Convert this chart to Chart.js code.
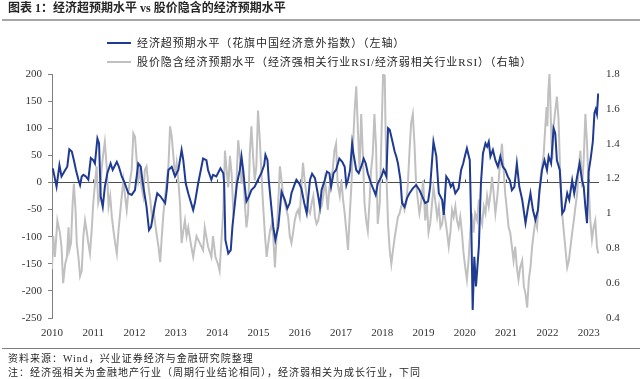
<!DOCTYPE html>
<html>
<head>
<meta charset="utf-8">
<script src="https://cdn.jsdelivr.net/npm/chart.js@4.4.0/dist/chart.umd.min.js"></script>
<style>
  body { margin: 0; background: #fff; }
  #wrap { position: relative; width: 640px; height: 379px; overflow: hidden; }
  #chart { position: absolute; left: 0; top: 0; }
  .cjk { font-family: "Liberation Serif", "Noto Sans CJK SC", serif; color: #262626; white-space: nowrap; position: absolute; }
  .title { left: 8px; top: 0px; font-size: 12px; font-weight: bold; line-height: 16px; }
  .rule { position: absolute; left: 2px; width: 638px; }
  .legend { left: 107px; font-size: 11px; letter-spacing: 0.9px; line-height: 14px; }
  .legend i { display: inline-block; width: 24px; height: 2px; vertical-align: middle; margin-right: 6px; position: relative; top: -1px; }
  .note { left: 8px; font-size: 10px; letter-spacing: 1px; line-height: 13px; }
</style>
</head>
<body>
<div id="wrap">
  <canvas id="chart" width="640" height="379"></canvas>
  <div class="cjk title">图表 1：经济超预期水平 vs 股价隐含的经济预期水平</div>
  <div class="rule" style="top:19px;height:2px;background:#a6a6a6"></div>
  <div class="cjk legend" style="top:36px"><i style="background:#1f3a93"></i>经济超预期水平（花旗中国经济意外指数）（左轴）</div>
  <div class="cjk legend" style="top:55px"><i style="background:#c0c0c0"></i>股价隐含经济预期水平（经济强相关行业RSI/经济弱相关行业RSI）（右轴）</div>
  <div class="rule" style="top:348px;height:1px;background:#7f7f7f"></div>
  <div class="cjk note" style="top:352px">资料来源：Wind，兴业证券经济与金融研究院整理</div>
  <div class="cjk note" style="top:366px">注：经济强相关为金融地产行业（周期行业结论相同），经济弱相关为成长行业，下同</div>
</div>
<script>
// x axis labels and y axis ticks
const yearLabels = [2010, 2011, 2012, 2013, 2014, 2015, 2016, 2017, 2018, 2019, 2020, 2021, 2022, 2023];
const leftTicks = [200, 150, 100, 50, 0, -50, -100, -150, -200, -250];
const rightTicks = [1.8, 1.6, 1.4, 1.2, 1, 0.8, 0.6, 0.4];

// Citi China economic surprise index (left axis)
const blueYears = [
  2010.02, 2010.11, 2010.18, 2010.23, 2010.32, 2010.37, 2010.42, 2010.48, 2010.53, 2010.58, 2010.64, 2010.68, 2010.72, 2010.76, 2010.82, 2010.88, 2010.94,
  2011.00, 2011.04, 2011.10, 2011.14, 2011.18, 2011.23, 2011.28, 2011.34, 2011.42, 2011.47, 2011.57, 2011.62, 2011.69, 2011.75, 2011.85, 2011.93,
  2012.01, 2012.09, 2012.15, 2012.20, 2012.29, 2012.35, 2012.40, 2012.50, 2012.55, 2012.63, 2012.74, 2012.78, 2012.82, 2012.90, 2012.98,
  2013.06, 2013.14, 2013.18, 2013.24, 2013.30, 2013.42, 2013.46, 2013.54, 2013.66, 2013.74, 2013.78, 2013.86, 2013.90, 2013.98,
  2014.08, 2014.15, 2014.17, 2014.20, 2014.27, 2014.33, 2014.37, 2014.43, 2014.48, 2014.55, 2014.59, 2014.63, 2014.67, 2014.71, 2014.77, 2014.83, 2014.91, 2014.99,
  2015.07, 2015.14, 2015.17, 2015.22, 2015.25, 2015.32, 2015.36, 2015.41, 2015.48, 2015.52, 2015.56, 2015.64, 2015.70, 2015.76, 2015.80, 2015.87, 2015.92, 2015.99,
  2016.04, 2016.11, 2016.17, 2016.25, 2016.30, 2016.37, 2016.45, 2016.49, 2016.53, 2016.61, 2016.66, 2016.72, 2016.76, 2016.82, 2016.88, 2016.96,
  2017.03, 2017.09, 2017.13, 2017.17, 2017.22, 2017.27, 2017.30, 2017.37, 2017.43, 2017.49, 2017.55, 2017.60, 2017.65, 2017.73, 2017.84, 2017.89, 2017.98,
  2018.03, 2018.10, 2018.14, 2018.18, 2018.24, 2018.30, 2018.34, 2018.38, 2018.44, 2018.48, 2018.54, 2018.60, 2018.66, 2018.74, 2018.82, 2018.90,
  2019.04, 2019.11, 2019.16, 2019.24, 2019.31, 2019.37, 2019.45, 2019.49, 2019.55, 2019.61, 2019.66, 2019.71, 2019.77, 2019.85, 2019.91, 2019.96,
  2020.00, 2020.05, 2020.12, 2020.16, 2020.19, 2020.23, 2020.27, 2020.34, 2020.39, 2020.44, 2020.50, 2020.54, 2020.58, 2020.62, 2020.68, 2020.74, 2020.80, 2020.86, 2020.92, 2020.98,
  2021.04, 2021.09, 2021.14, 2021.20, 2021.26, 2021.32, 2021.39, 2021.47, 2021.52, 2021.59, 2021.65, 2021.71, 2021.77, 2021.81, 2021.87, 2021.93, 2021.99,
  2022.03, 2022.09, 2022.15, 2022.19, 2022.23, 2022.30, 2022.36, 2022.41, 2022.48, 2022.53, 2022.60, 2022.65, 2022.72, 2022.78, 2022.84, 2022.88, 2022.92, 2022.96,
  2023.00, 2023.05, 2023.10, 2023.14, 2023.17, 2023.20, 2023.23
];
const blueValues = [
  26, -8, 32, 11, 23, 29, 61, 57, 41, 23, 5, -5, 11, 14, 11, 5, 45,
  41, 35, 81, 72, -26, -45, -8, 17, 35, 23, 38, 29, 11, 1, -20, -23,
  -14, 35, 29, -2, -45, -88, -82, -38, -20, -26, -38, -14, 23, 29, 11,
  23, 60, 41, -2, -20, -51, -38, -2, 44, 41, 23, 5, 14, 11,
  26, 17, -2, -106, -131, -125, -82, -38, -2, 23, 48, 23, -8, -35, -26, -14, -8, 5,
  17, 32, 51, 41, 5, -51, -82, -106, -82, -51, -17, -32, -48, -38, -20, -5, 5, -2,
  -11, -38, -57, 5, 16, 8, -26, -45, -14, 5, 20, 17, -8, 17, 23, 44,
  38, 29, -5, 5, 23, 72, 54, 23, 17, 29, 44, 35, 17, -2, -23, -2, 11,
  23, 11, 100, 97, 78, 57, 48, 35, 5, -38, -45, -29, -20, -11, -5, -14,
  -38, -35, -8, 75, 48, -20, -32, -60, 11, 4, -8, -2, -20, -11, 23, 35,
  48, 63, 41, -94, -235, -137, -192, -118, -2, 54, 72, 66, 75, 48, 60, 41, 29, 48, 29, 23,
  11, 4, -14, -8, 35, -8, -32, -75, -51, -20, -51, -69, -51, -14, 23, 41, 23,
  48, 35, 100, 91, 41, 23, -57, -51, -20, -32, 4, -20, 11, 35, 4, -8, -45, -75,
  20, 45, 75, 128, 135, 126, 164
];

// equity-implied growth expectation, RSI ratio (right axis)
const grayYears = [
  2010.00, 2010.03, 2010.07, 2010.13, 2010.19, 2010.23, 2010.27, 2010.32, 2010.36, 2010.40, 2010.42, 2010.46, 2010.50, 2010.53, 2010.57, 2010.60, 2010.64, 2010.68, 2010.72, 2010.76, 2010.80, 2010.84, 2010.88, 2010.92, 2010.96,
  2011.00, 2011.04, 2011.08, 2011.12, 2011.16, 2011.20, 2011.24, 2011.28, 2011.33, 2011.37, 2011.41, 2011.45, 2011.49, 2011.53, 2011.57, 2011.61, 2011.65, 2011.69, 2011.73, 2011.77, 2011.81, 2011.85, 2011.89, 2011.93, 2011.97,
  2012.01, 2012.05, 2012.09, 2012.13, 2012.17, 2012.21, 2012.25, 2012.29, 2012.34, 2012.38, 2012.42, 2012.46, 2012.50, 2012.54, 2012.58, 2012.62, 2012.66, 2012.70, 2012.74, 2012.78, 2012.82, 2012.86, 2012.90, 2012.94, 2012.98,
  2013.02, 2013.06, 2013.10, 2013.14, 2013.18, 2013.22, 2013.26, 2013.30, 2013.36, 2013.42, 2013.50, 2013.58, 2013.66, 2013.70, 2013.78, 2013.86, 2013.90, 2013.96,
  2014.02, 2014.06, 2014.10, 2014.15, 2014.19, 2014.23, 2014.27, 2014.31, 2014.35, 2014.39, 2014.43, 2014.47, 2014.51, 2014.55, 2014.59, 2014.63, 2014.67, 2014.71, 2014.75, 2014.79, 2014.83, 2014.87, 2014.91, 2014.95, 2014.99,
  2015.03, 2015.07, 2015.11, 2015.16, 2015.20, 2015.24, 2015.28, 2015.32, 2015.36, 2015.40, 2015.44, 2015.48, 2015.52, 2015.56, 2015.60, 2015.64, 2015.68, 2015.72, 2015.76, 2015.80, 2015.84, 2015.88, 2015.92, 2015.96,
  2016.00, 2016.04, 2016.08, 2016.12, 2016.17, 2016.21, 2016.25, 2016.29, 2016.33, 2016.37, 2016.41, 2016.45, 2016.49, 2016.53, 2016.57, 2016.61, 2016.64, 2016.68, 2016.72, 2016.76, 2016.80, 2016.84, 2016.88, 2016.92, 2016.97,
  2017.01, 2017.05, 2017.09, 2017.13, 2017.17, 2017.21, 2017.25, 2017.29, 2017.33, 2017.37, 2017.41, 2017.45, 2017.49, 2017.53, 2017.57, 2017.61, 2017.65, 2017.69, 2017.73, 2017.77, 2017.81, 2017.85, 2017.89, 2017.94, 2017.98,
  2018.02, 2018.06, 2018.08, 2018.11, 2018.14, 2018.18, 2018.22, 2018.26, 2018.30, 2018.34, 2018.38, 2018.42, 2018.46, 2018.50, 2018.54, 2018.58, 2018.62, 2018.66, 2018.70, 2018.74, 2018.78, 2018.82, 2018.86, 2018.90, 2018.94, 2018.99,
  2019.04, 2019.08, 2019.12, 2019.16, 2019.20, 2019.24, 2019.28, 2019.33, 2019.37, 2019.41, 2019.45, 2019.49, 2019.53, 2019.57, 2019.61, 2019.65, 2019.69, 2019.73, 2019.77, 2019.81, 2019.85, 2019.89, 2019.93, 2019.97,
  2020.01, 2020.05, 2020.09, 2020.13, 2020.17, 2020.21, 2020.25, 2020.30, 2020.34, 2020.38, 2020.42, 2020.46, 2020.50, 2020.54, 2020.58, 2020.62, 2020.66, 2020.70, 2020.74, 2020.78, 2020.82, 2020.86, 2020.90, 2020.94, 2020.98,
  2021.02, 2021.06, 2021.10, 2021.14, 2021.18, 2021.22, 2021.26, 2021.30, 2021.34, 2021.39, 2021.43, 2021.47, 2021.51, 2021.55, 2021.59, 2021.63, 2021.67, 2021.71, 2021.75, 2021.79, 2021.83, 2021.87, 2021.91, 2021.95, 2021.98,
  2022.00, 2022.02, 2022.05, 2022.07, 2022.10, 2022.12, 2022.15, 2022.19, 2022.23, 2022.27, 2022.31, 2022.35, 2022.40, 2022.44, 2022.48, 2022.52, 2022.56, 2022.60, 2022.64, 2022.68, 2022.72, 2022.76, 2022.80, 2022.84, 2022.88, 2022.92, 2022.96,
  2023.00, 2023.04, 2023.08, 2023.12, 2023.16, 2023.20, 2023.23
];
const grayValues = [
  0.68, 0.87, 0.75, 0.96, 0.89, 0.81, 0.60, 0.71, 0.75, 0.92, 0.79, 0.83, 1.06, 1.17, 1.02, 0.83, 0.75, 0.64, 0.67, 0.87, 0.96, 0.90, 0.83, 0.77, 0.90,
  1.06, 1.17, 1.27, 1.06, 1.10, 1.25, 1.34, 1.41, 1.25, 1.04, 1.10, 0.98, 0.90, 0.83, 0.77, 0.90, 1.00, 1.10, 1.19, 1.10, 1.02, 1.12, 1.19, 1.25, 1.46,
  1.44, 1.31, 1.19, 1.25, 1.15, 1.10, 1.25, 1.27, 1.15, 1.08, 0.98, 1.02, 0.94, 0.87, 0.81, 0.72, 0.87, 1.00, 1.10, 1.19, 1.27, 1.50, 1.44, 1.33, 1.21,
  1.29, 1.19, 1.06, 0.83, 0.90, 0.96, 0.87, 0.92, 0.83, 0.75, 0.87, 0.83, 0.79, 0.92, 0.81, 0.75, 0.87, 0.75,
  0.71, 0.67, 0.83, 1.02, 1.36, 1.25, 1.15, 1.33, 1.23, 1.02, 1.06, 1.19, 1.42, 1.33, 1.17, 1.25, 1.06, 0.92, 1.00, 1.34, 1.50, 1.33, 1.19, 1.27, 1.59,
  1.44, 1.25, 1.06, 0.87, 0.75, 0.83, 0.90, 0.94, 0.87, 0.69, 0.87, 1.06, 1.27, 1.19, 1.10, 1.06, 1.02, 0.98, 0.87, 0.83, 0.89, 0.96, 1.00, 1.02,
  0.98, 1.15, 1.29, 1.19, 1.10, 1.02, 1.00, 1.06, 1.10, 0.98, 0.94, 0.96, 1.02, 1.04, 1.10, 1.19, 1.13, 1.02, 1.15, 1.19, 1.25, 1.36, 1.40, 1.17, 1.10,
  1.19, 1.08, 1.00, 0.90, 0.79, 0.98, 1.15, 1.38, 1.59, 1.73, 1.48, 1.25, 1.57, 1.34, 1.06, 0.96, 0.90, 1.06, 1.25, 1.34, 1.57, 1.38, 0.94, 1.06, 1.44,
  1.80, 1.79, 1.48, 1.15, 0.94, 0.79, 0.71, 0.79, 0.86, 0.92, 0.98, 1.00, 1.04, 1.06, 1.02, 1.06, 1.17, 1.36, 1.52, 1.57, 1.40, 1.17, 1.08, 1.00, 1.06, 1.19,
  0.96, 1.06, 0.89, 0.94, 1.04, 1.15, 1.08, 0.98, 1.04, 0.92, 0.94, 1.02, 0.96, 0.89, 0.81, 0.89, 1.02, 0.98, 1.04, 0.96, 0.92, 0.98, 0.89, 0.77,
  0.69, 0.62, 0.73, 0.89, 1.00, 0.89, 1.00, 0.96, 1.08, 0.98, 0.94, 1.04, 1.00, 1.10, 1.04, 1.11, 1.21, 1.11, 1.00, 1.08, 1.19, 1.31, 1.40, 1.25, 1.11,
  1.02, 0.92, 0.89, 0.81, 0.73, 0.81, 0.69, 0.62, 0.69, 0.73, 0.58, 0.54, 0.46, 0.62, 0.69, 0.81, 0.89, 0.96, 0.92, 1.08, 1.19, 1.27, 1.34, 1.50, 1.61,
  1.50, 1.69, 1.80, 1.65, 1.40, 1.31, 1.50, 1.59, 1.67, 1.54, 1.23, 1.02, 0.89, 0.79, 0.69, 0.73, 0.81, 0.89, 0.96, 1.04, 1.11, 1.27, 1.36, 1.15, 1.31, 1.57, 1.40,
  1.15, 0.96, 0.85, 0.92, 0.96, 0.81, 0.77
];

const axisFont = { family: "Liberation Serif", size: 11 };
const textColor = "#333333";

// small year tick marks sitting on the zero line
const zeroTicks = {
  id: "zeroTicks",
  beforeDatasetsDraw(chart) {
    const x = chart.scales.x;
    const y0 = chart.scales.yL.getPixelForValue(0);
    const c = chart.ctx;
    c.save();
    c.strokeStyle = "#4d4d4d";
    c.lineWidth = 1;
    yearLabels.slice(1).forEach(v => {
      const px = Math.round(x.getPixelForValue(v)) + 0.5;
      c.beginPath();
      c.moveTo(px, y0 - 3);
      c.lineTo(px, y0);
      c.stroke();
    });
    c.restore();
  }
};

new Chart(document.getElementById("chart"), {
  type: "line",
  data: {
    datasets: [
      {
        label: "经济超预期水平（花旗中国经济意外指数）（左轴）",
        data: blueYears.map((x, i) => ({ x: x, y: blueValues[i] })),
        yAxisID: "yL",
        borderColor: "#1f3a93",
        borderWidth: 2,
        pointRadius: 0,
        tension: 0
      },
      {
        label: "股价隐含经济预期水平（经济强相关行业RSI/经济弱相关行业RSI）（右轴）",
        data: grayYears.map((x, i) => ({ x: x, y: grayValues[i] })),
        yAxisID: "yR",
        borderColor: "#c0c0c0",
        borderWidth: 2,
        pointRadius: 0,
        tension: 0
      }
    ]
  },
  plugins: [zeroTicks],
  options: {
    responsive: false,
    animation: false,
    layout: { padding: { top: 74, left: 0, right: 0, bottom: 0 } },
    plugins: { legend: { display: false }, tooltip: { enabled: false } },
    scales: {
      x: {
        type: "linear",
        min: 2010,
        max: 2023.25,
        afterFit: (s) => { s.height = 61; },
        afterBuildTicks: (s) => { s.ticks = yearLabels.map(v => ({ value: v })); },
        grid: { display: false, drawTicks: false },
        border: { display: false },
        ticks: { padding: 9, maxRotation: 0, autoSkip: false, font: axisFont, color: textColor, callback: v => String(v) }
      },
      yL: {
        position: "left",
        min: -250,
        max: 200,
        afterFit: (s) => { s.width = 52; },
        afterBuildTicks: (s) => { s.ticks = leftTicks.map(v => ({ value: v })); },
        grid: {
          color: (c) => (c.tick && c.tick.value === 0 ? "#4d4d4d" : "rgba(0,0,0,0)"),
          tickColor: "#7f7f7f",
          tickLength: 4,
          lineWidth: 1
        },
        border: { display: true, color: "#7f7f7f", width: 1 },
        ticks: { padding: 6, font: axisFont, color: textColor }
      },
      yR: {
        position: "right",
        min: 0.4,
        max: 1.8,
        afterFit: (s) => { s.width = 41; },
        afterBuildTicks: (s) => { s.ticks = rightTicks.map(v => ({ value: v })); },
        grid: { display: false, drawTicks: false },
        border: { display: false },
        ticks: { padding: 7, font: axisFont, color: textColor, callback: v => String(Math.round(v * 10) / 10) }
      }
    }
  }
});
</script>
</body>
</html>
